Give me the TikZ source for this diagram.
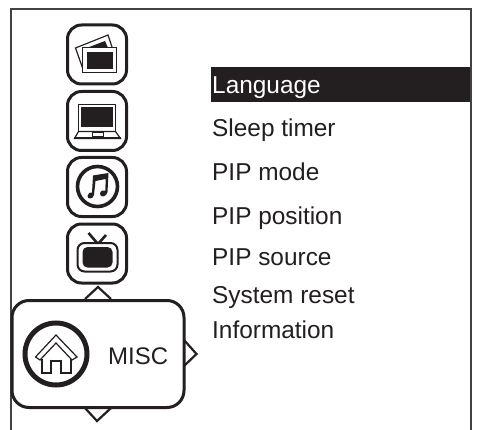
\documentclass[tikz,border=0pt]{standalone}
\usepackage{fontspec}
\setmainfont{Liberation Sans}
\definecolor{ink}{HTML}{231F20}
\tikzset{
 iconbox/.style={draw=ink,line width=3pt,rounded corners=14pt,fill=white},
 menuitem/.style={anchor=base west,inner sep=0pt,text=ink,font=\fontsize{24.4}{24.4}\selectfont},
 tri/.style={draw=ink,line width=2.2pt,fill=white,line join=miter},
 thinline/.style={draw=ink,line width=1.2pt,fill=white},
}
\begin{document}
\begin{tikzpicture}[x=1pt,y=-1pt]
\useasboundingbox (0,0) rectangle (481,430);
\fill[white] (0,0) rectangle (481,430);
\draw[draw=ink!85,line width=2pt] (11,430) -- (11,9.5) -- (471,9.5) -- (471,430);
% highlighted row
\fill[ink] (211,67) rectangle (470.2,102);
\node[menuitem,text=white] (lang) at (212,94) {Language};
\node[menuitem] (sleep) at (212,137) {Sleep timer};
\node[menuitem] (pipm) at (212,181) {PIP mode};
\node[menuitem] (pipp) at (212,225) {PIP position};
\node[menuitem] (pips) at (212,265) {PIP source};
\node[menuitem] (sysr) at (212,303) {System reset};
\node[menuitem] (info) at (212,338) {Information};
% icon boxes
\draw[iconbox] (67.5,25) rectangle (126.5,84);
\draw[iconbox] (67.5,91.5) rectangle (126.5,150.5);
\draw[iconbox] (67.5,157.5) rectangle (126.5,216.5);
\draw[iconbox] (67.5,224) rectangle (126.5,283);
% photos icon
\draw[thinline] (75.5,48) -- (108,35) -- (113,50) -- (84,72) -- cycle;
\fill[ink] (84,49) -- (105,41) -- (109,50) -- (86,62) -- cycle;
\draw[thinline] (82.5,47.5) rectangle (116.5,72.5);
\fill[ink] (86.5,52) rectangle (113,69);
% laptop icon
\draw[thinline] (78.5,104.5) rectangle (115.5,131.5);
\fill[ink] (81,107) rectangle (113,127);
\draw[thinline] (78.5,131.5) -- (115.5,131.5) -- (120.5,138.5) -- (74.5,138.5) -- cycle;
\draw[draw=ink,line width=1pt] (74,137.5) -- (120.5,137.5);
\draw[draw=ink,line width=.7pt] (92,132.5) rectangle (103,136);
% music icon
\draw[draw=ink,line width=3.6pt] (97.5,186.5) circle (20);
\fill[ink] (93,175.5) -- (108.5,173) -- (107.5,192) .. controls (107,197) and (100,198) .. (100,194) .. controls (100,191) and (103,189.5) .. (105.3,190.5) -- (105.7,179) -- (95.5,181) -- (94,195) .. controls (93,200) and (87,199) .. (87.5,196) .. controls (88,193) and (90,192) .. (92,192.5) -- cycle;
% tv icon
\draw[draw=ink,line width=2.6pt] (98,244) -- (88.5,233);
\draw[draw=ink,line width=2.6pt] (98,244) -- (106,235);
\draw[draw=ink,line width=2pt,rounded corners=7pt,fill=white] (77.5,243) rectangle (117.5,271.5);
\fill[ink,rounded corners=5pt] (82.5,247) rectangle (112.5,267.5);
% small triangle above the MISC box
\draw[tri] (85,299) -- (98,287) -- (111,299);
% MISC box triangles
\draw[tri] (184,340) -- (196.5,354) -- (184,366);
\draw[tri] (85,408) -- (97,421) -- (111,408);
% MISC box
\draw[draw=ink,line width=3pt,rounded corners=17pt,fill=white] (12,300.5) rectangle (184,407.5);
\draw[draw=ink,line width=5pt] (56,354) circle (31);
\draw[draw=ink,line width=1.2pt,line join=miter] (35.5,357) -- (56,335) -- (77,357) -- (72,360) -- (56,343) -- (40,360) -- cycle;
\draw[draw=ink,line width=1.2pt,line join=miter] (42,359) -- (42,373) -- (51,373) -- (51,361) -- (61,361) -- (61,373) -- (71,373) -- (71,359);
\node[menuitem,font=\fontsize{24}{24}\selectfont] (misc) at (108,364) {MISC};
\end{tikzpicture}
\end{document}
